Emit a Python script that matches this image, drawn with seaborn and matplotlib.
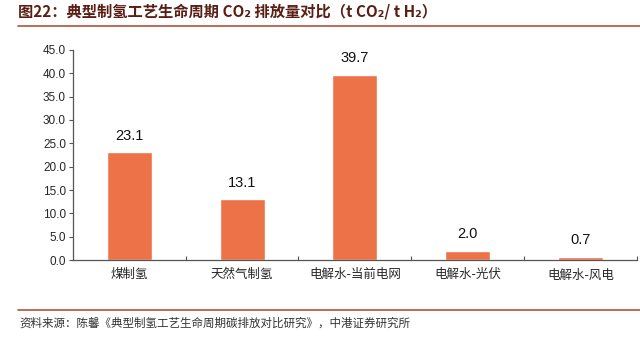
import matplotlib
matplotlib.use("Agg")
import matplotlib.pyplot as plt
import seaborn as sns
import pandas as pd
from matplotlib.ticker import FixedLocator

categories = ["煤制氢", "天然气制氢", "电解水-当前电网", "电解水-光伏", "电解水-风电"]
values = [23.1, 13.1, 39.7, 2.0, 0.7]
yticks = [0, 5, 10, 15, 20, 25, 30, 35, 40, 45]

sns.set_theme(style="white")
plt.rcParams['font.family'] = ['Noto Sans CJK SC', 'DejaVu Sans']

df = pd.DataFrame({"cat": categories, "val": values})

fig = plt.figure(figsize=(6.4, 3.51), dpi=100)
ax = fig.add_axes([0.114, 0.259, 0.881, 0.599])
sns.barplot(data=df, x="cat", y="val", color="#EE7248", width=0.4, ax=ax, saturation=1)

ax.set_xlim(-0.5, 4.5)
ax.set_ylim(0, 45)
ax.set_yticks(yticks)
ax.set_yticklabels([f"{v:.1f}" for v in yticks], fontsize=8.5, family=['Liberation Sans', 'DejaVu Sans'])
ax.set_xlabel("")
ax.set_ylabel("")
ax.tick_params(axis='x', which='major', length=0, labelsize=9, pad=6)
ax.xaxis.set_minor_locator(FixedLocator([0.5, 1.5, 2.5, 3.5, 4.5]))
ax.tick_params(axis='x', which='minor', direction='in', length=3, color='#555555', width=0.8, bottom=True)
ax.tick_params(axis='y', which='major', direction='out', length=3, color='#555555', width=0.8, left=True, pad=2)
for s in ['top', 'right']:
    ax.spines[s].set_visible(False)
for s in ['left', 'bottom']:
    ax.spines[s].set_color('#555555')
    ax.spines[s].set_linewidth(0.9)

for i, v in enumerate(values):
    ax.text(i, v + 2.0, f"{v:.1f}", ha='center', va='bottom', fontsize=10.5,
            family=['Liberation Sans', 'DejaVu Sans'], color='#111111')

fig.text(0.028, 0.968, "图22：典型制氢工艺生命周期 CO₂ 排放量对比（t CO₂/ t H₂）",
         ha='left', va='center', fontsize=11, fontweight='bold', color='#5A1E14',
         family=['Noto Sans CJK SC', 'DejaVu Sans'])
fig.add_artist(plt.Line2D([0.028, 1.0], [0.926, 0.926], color='#B5533A', lw=1.2))
fig.add_artist(plt.Line2D([0.028, 1.0], [0.117, 0.117], color='#B5533A', lw=1.2))
fig.text(0.03, 0.08, "资料来源：陈馨《典型制氢工艺生命周期碳排放对比研究》，中港证券研究所",
         ha='left', va='center', fontsize=8.3, color='#333333')

fig.savefig("out.png", dpi=100)
